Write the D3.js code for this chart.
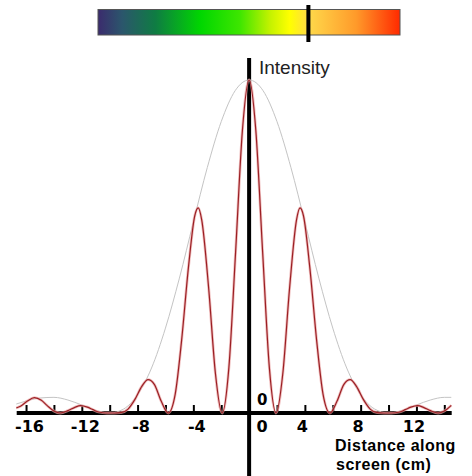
<!DOCTYPE html>
<html>
<head>
<meta charset="utf-8">
<script src="https://cdn.jsdelivr.net/npm/d3@7"></script>
<style>
  html, body { margin: 0; padding: 0; background: #fff; }
  svg { display: block; }
</style>
</head>
<body>
<script>
// spectrum bar (wavelength selector)
var spectrumStops  = [0, 0.08, 0.19, 0.34, 0.47, 0.57, 0.635, 0.70, 0.855, 1];
var spectrumColors = ["#3b2b6d", "#2b566c", "#0f7c43", "#00d700", "#3ee600", "#c4f200", "#ffff00", "#ffd84a", "#ff9a2a", "#ff2a00"];
var wavelengthRange = [400, 700];
var wavelength = 609;

// axis ticks
var tickValues = [-16, -14, -12, -10, -8, -6, -4, -2, 0, 2, 4, 6, 8, 10, 12, 14];
var labelValues = [-16, -12, -8, -4, 0, 4, 8, 12];

// single slit envelope (grey)
var envelopeX = [-16.7, -16, -15, -14, -13, -12, -11, -10, -9, -8, -7, -6, -5, -4, -3, -2, -1, 0,
                 1, 2, 3, 4, 5, 6, 7, 8, 9, 10, 11, 12, 13, 14, 14.5];
var envelopeI = [0.027, 0.036, 0.045, 0.047, 0.039, 0.024, 0.008, 0, 0.012, 0.055, 0.135, 0.255, 0.405, 0.573, 0.737, 0.875, 0.968, 1,
                 0.968, 0.875, 0.737, 0.573, 0.405, 0.255, 0.135, 0.055, 0.012, 0, 0.008, 0.024, 0.039, 0.047, 0.047];

// double slit intensity (red)
var patternX = [-16.7, -16.4, -15.9, -15.4, -14.9, -14.5, -14.0, -13.55, -13.0, -12.5, -12.1, -11.6, -11.2, -10.8, -10.2, -9.67,
                -9.2, -8.7, -8.2, -7.7, -7.25, -6.8, -6.3, -5.8, -5.3, -4.85, -4.35, -3.9, -3.65, -3.4, -2.9, -2.42, -1.935, -1.45, -0.97, -0.48, 0,
                0.48, 0.97, 1.45, 1.935, 2.42, 2.9, 3.4, 3.65, 3.9, 4.35, 4.85, 5.3, 5.8, 6.3, 6.8, 7.25, 7.7, 8.2, 8.7, 9.2,
                9.67, 10.2, 10.8, 11.2, 11.6, 12.1, 12.5, 13.0, 13.55, 14.0, 14.5];
var patternI = [0.015, 0.02, 0.036, 0.046, 0.038, 0.023, 0.006, 0, 0.007, 0.017, 0.022, 0.0175, 0.01, 0.003, 0, 0,
                0.001, 0.011, 0.04, 0.08, 0.1, 0.086, 0.035, 0, 0.057, 0.215, 0.438, 0.592, 0.616, 0.58, 0.374, 0.12, 0, 0.137, 0.483, 0.849, 1,
                0.849, 0.483, 0.137, 0, 0.12, 0.374, 0.58, 0.616, 0.592, 0.438, 0.215, 0.057, 0, 0.035, 0.086, 0.1, 0.08, 0.04, 0.011, 0.001,
                0, 0, 0.003, 0.01, 0.0175, 0.022, 0.017, 0.007, 0, 0.006, 0.023];

var w = 472, h = 476;

var svg = d3.select("body").append("svg")
    .attr("width", w)
    .attr("height", h);

// BEGIN spectrum bar
var barX = d3.scaleLinear().domain(wavelengthRange).range([98, 400]);

var grad = svg.append("defs").append("linearGradient")
    .attr("id", "spectrum")
    .attr("x1", "0%").attr("x2", "100%")
    .attr("y1", "0%").attr("y2", "0%");

grad.selectAll("stop")
    .data(spectrumStops)
    .enter()
    .append("stop")
    .attr("offset", function(d) { return (d * 100) + "%"; })
    .attr("stop-color", function(d, i) { return spectrumColors[i]; });

svg.append("rect")
    .attr("x", barX.range()[0])
    .attr("y", 9.5)
    .attr("width", barX.range()[1] - barX.range()[0])
    .attr("height", 25.5)
    .attr("fill", "url(#spectrum)")
    .attr("stroke", "#555")
    .attr("stroke-width", 1);

svg.append("rect")
    .attr("x", barX(wavelength) - 2)
    .attr("y", 5)
    .attr("width", 4)
    .attr("height", 37)
    .attr("fill", "#000");
// END spectrum bar

// scales
var x = d3.scaleLinear().domain([-16.67, 14.53]).range([16.7, 451.7]);
var y = d3.scaleLinear().domain([0, 1]).range([413, 80]);

// horizontal axis ticks + labels
var xAxis = d3.axisBottom(x)
    .tickValues(tickValues)
    .tickSize(-8)
    .tickFormat(function(d) { return labelValues.indexOf(d) > -1 ? String(d) : ""; });

var ax = svg.append("g")
    .attr("transform", "translate(0," + y(0) + ")")
    .call(xAxis);

ax.select(".domain").remove();
ax.selectAll(".tick line")
    .attr("stroke", "#000")
    .attr("stroke-width", 2);
ax.selectAll(".tick text")
    .attr("y", 19)
    .attr("dy", null)
    .attr("fill", "#000")
    .attr("font-family", "DejaVu Sans")
    .attr("font-weight", "bold")
    .attr("font-size", "16px")
    .attr("text-anchor", function(d) { return d == 0 ? "start" : "middle"; })
    .attr("dx", function(d) { return d == 0 ? 7 : (d < 0 ? 3 : -3); });

// thick axis lines
svg.append("line")
    .attr("x1", x.range()[0]).attr("x2", x.range()[1])
    .attr("y1", y(0)).attr("y2", y(0))
    .attr("stroke", "#000")
    .attr("stroke-width", 4);

svg.append("line")
    .attr("x1", x(0)).attr("x2", x(0))
    .attr("y1", 58).attr("y2", h)
    .attr("stroke", "#000")
    .attr("stroke-width", 4);

// curves
var envLine = d3.line()
    .x(function(d, i) { return x(envelopeX[i]); })
    .y(function(d) { return y(d); })
    .curve(d3.curveMonotoneX);

var patLine = d3.line()
    .x(function(d, i) { return x(patternX[i]); })
    .y(function(d) { return y(d); })
    .curve(d3.curveMonotoneX);

svg.append("path")
    .attr("d", envLine(envelopeI))
    .attr("fill", "none")
    .attr("stroke", "#c4c4c4")
    .attr("stroke-width", 1);

svg.append("path")
    .attr("d", patLine(patternI))
    .attr("fill", "none")
    .attr("stroke", "#eaa5a5")
    .attr("stroke-width", 2.8)
    .attr("opacity", 0.7);

svg.append("path")
    .attr("d", patLine(patternI))
    .attr("fill", "none")
    .attr("stroke", "#9b1f24")
    .attr("stroke-width", 1.2);

// labels
svg.append("text")
    .attr("x", x(0) + 8)
    .attr("y", 405)
    .attr("font-family", "DejaVu Sans")
    .attr("font-weight", "bold")
    .attr("font-size", "15px")
    .text("0");

svg.append("text")
    .attr("x", 259)
    .attr("y", 74)
    .attr("fill", "#222")
    .attr("font-family", "Liberation Sans")
    .attr("font-size", "19px")
    .text("Intensity");

svg.append("text")
    .attr("x", 335).attr("y", 451)
    .attr("font-family", "Liberation Sans")
    .attr("font-weight", "bold")
    .attr("font-size", "16px")
    .attr("letter-spacing", "0.5px")
    .attr("fill", "#000")
    .text("Distance along");

svg.append("text")
    .attr("x", 336).attr("y", 470)
    .attr("font-family", "Liberation Sans")
    .attr("font-weight", "bold")
    .attr("font-size", "16px")
    .attr("letter-spacing", "0.5px")
    .attr("fill", "#000")
    .text("screen (cm)");
</script>
</body>
</html>
